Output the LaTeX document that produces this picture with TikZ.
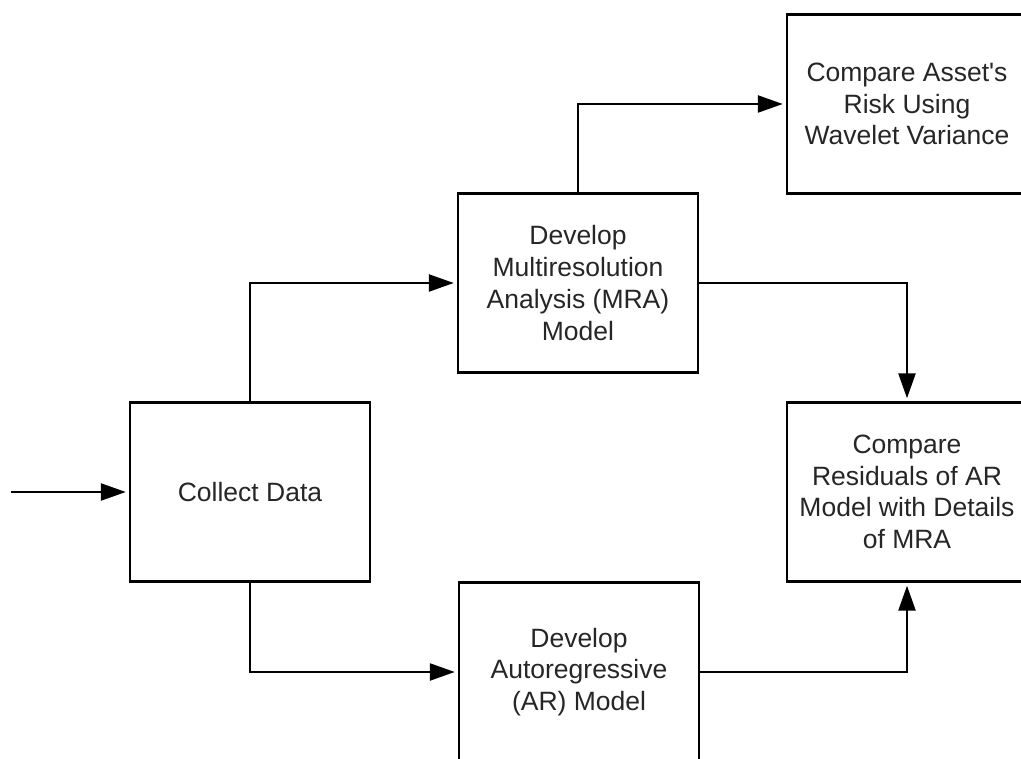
\documentclass[tikz,border=0pt]{standalone}
\usepackage{fontspec}
\setmainfont{Liberation Sans}[Ligatures=TeXOff]
\usetikzlibrary{arrows.meta}

\tikzset{
  stepbox/.style={draw, line width=2.4pt, minimum width=240pt, minimum height=179pt,
    inner sep=0pt, align=center, text=black!85,
    font=\fontsize{26.5}{31.7}\selectfont},
  flow/.style={line width=2.4pt, -{Triangle[length=25pt,width=17pt]}, shorten >=3pt}
}

\begin{document}
\begin{tikzpicture}[x=1pt, y=-1pt]
  \useasboundingbox (0,0) rectangle (1021,759);
  \clip (0,0) rectangle (1021,759);

  % process boxes
  \node[stepbox] (collect) at (250,492) {Collect Data};
  \node[stepbox] (mra)     at (578,283) {Develop\\Multiresolution\\Analysis (MRA)\\Model};
  \node[stepbox] (ar)      at (579,672) {Develop\\Autoregressive\\(AR) Model};
  \node[stepbox] (asset)   at (907,104) {Compare Asset's\\Risk Using\\Wavelet Variance};
  \node[stepbox] (resid)   at (907,492) {Compare\\Residuals of AR\\Model with Details\\of MRA};

  % input
  \coordinate (start) at (11,492);
  \draw[flow] (start) -- (collect.west);

  % flow between steps
  \draw[flow] (collect.north) |- (mra.west);
  \draw[flow] (collect.south) |- (ar.west);
  \draw[flow] (mra.north) |- (asset.west);
  \draw[flow] (mra.east) -| (resid.north);
  \draw[flow] (ar.east) -| (resid.south);
\end{tikzpicture}
\end{document}
